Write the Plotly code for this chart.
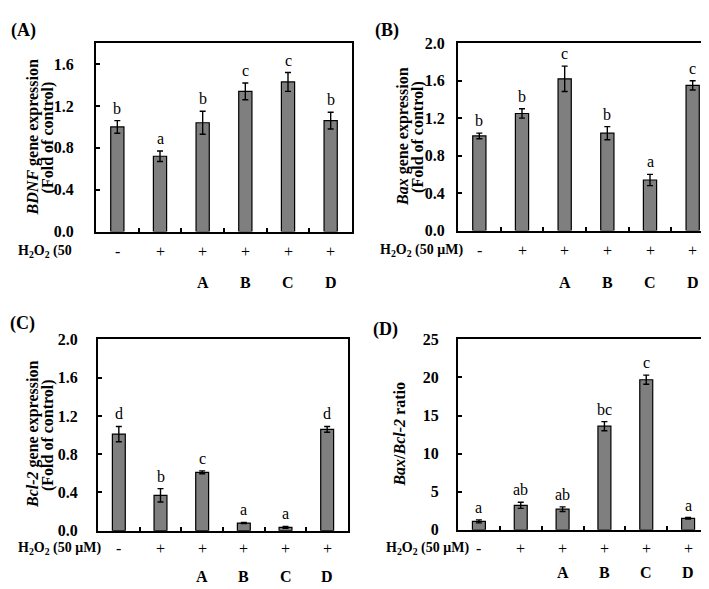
import plotly.graph_objects as go

W, H = 709, 589

treat = ["-", "+", "+", "+", "+", "+"]
groups = ["", "", "A", "B", "C", "D"]

bdnf = [1.00, 0.72, 1.04, 1.34, 1.43, 1.06]
bdnf_err = [0.06, 0.05, 0.11, 0.08, 0.09, 0.08]
bdnf_let = ["b", "a", "b", "c", "c", "b"]

bax = [1.01, 1.25, 1.62, 1.04, 0.54, 1.55]
bax_err = [0.03, 0.05, 0.135, 0.07, 0.06, 0.05]
bax_let = ["b", "b", "c", "b", "a", "c"]

bcl2 = [1.01, 0.37, 0.61, 0.08, 0.034, 1.06]
bcl2_err = [0.08, 0.07, 0.015, 0.006, 0.01, 0.03]
bcl2_let = ["d", "b", "c", "a", "a", "d"]

ratio = [1.1, 3.2, 2.7, 13.6, 19.7, 1.5]
ratio_err = [0.2, 0.4, 0.3, 0.6, 0.6, 0.1]
ratio_let = ["a", "ab", "ab", "bc", "c", "a"]

FONT = "Liberation Serif"

# panel boxes in pixels: left, right, top, bottom
panels = [
    dict(box=(88, 344, 28, 222), vals=bdnf, err=bdnf_err, let=bdnf_let,
         yr=[0, 1.8], tv=[0, 0.4, 0.8, 1.2, 1.6], fmt=".1f", stand=17,
         titles=["<i>BDNF</i> gene expression", "(Fold of control)"], tx=[25, 40],
         lab="(A)", labx=1, laby=15,
         hlab="H<sub>2</sub>O<sub>2</sub> (50", hx=8, hy=242, gy=274),
    dict(box=(450, 706, 28, 221), vals=bax, err=bax_err, let=bax_let,
         yr=[0, 2.0], tv=[0, 0.4, 0.8, 1.2, 1.6, 2.0], fmt=".1f", stand=8,
         titles=["<i>Bax</i> gene expression", "(Fold of control)"], tx=[395, 410],
         lab="(B)", labx=365, laby=15,
         hlab="H<sub>2</sub>O<sub>2</sub> (50 μM)", hx=370, hy=241, gy=274),
    dict(box=(90, 340, 333, 530), vals=bcl2, err=bcl2_err, let=bcl2_let,
         yr=[0, 2.0], tv=[0, 0.4, 0.8, 1.2, 1.6, 2.0], fmt=".1f", stand=15,
         titles=["<i>Bcl-2</i> gene expression", "(Fold of control)"], tx=[25, 40],
         lab="(C)", labx=0, laby=317,
         hlab="H<sub>2</sub>O<sub>2</sub> (50 μM)", hx=8, hy=548, gy=577),
    dict(box=(450, 701, 333, 529), vals=ratio, err=ratio_err, let=ratio_let,
         yr=[0, 25], tv=[0, 5, 10, 15, 20, 25], fmt="d", stand=14,
         titles=["<i>Bax</i>/<i>Bcl-2</i> ratio"], tx=[392],
         lab="(D)", labx=363, laby=323,
         hlab="H<sub>2</sub>O<sub>2</sub> (50 μM)", hx=376, hy=548, gy=573),
]

fig = go.Figure()
layout = dict(width=W, height=H, margin=dict(l=0, r=0, t=0, b=0),
              paper_bgcolor="white", plot_bgcolor="white", showlegend=False)
annotations = []


def px(x):
    return x / W


def py(y):
    return 1 - y / H


for i, p in enumerate(panels):
    n = "" if i == 0 else str(i + 1)
    xa, ya = "x" + n, "y" + n
    l, r, t, b = p["box"]
    xs = list(range(len(p["vals"])))
    fig.add_trace(go.Bar(
        x=xs, y=p["vals"], xaxis=xa, yaxis=ya, width=0.31,
        marker=dict(color="#7f7f7f", line=dict(color="black", width=1.2)),
        error_y=dict(type="data", array=p["err"], color="black",
                     thickness=1.4, width=3),
        hoverinfo="skip"))
    layout["xaxis" + n] = dict(
        domain=[px(l), px(r)], anchor=ya, range=[-0.5, 5.5],
        showline=True, linecolor="black", linewidth=2, mirror=True,
        ticks="inside", ticklen=4, tickwidth=2, tickcolor="black",
        tickvals=[0.5, 1.5, 2.5, 3.5, 4.5], showticklabels=False,
        showgrid=False, zeroline=False, fixedrange=True)
    layout["yaxis" + n] = dict(
        domain=[py(b), py(t)], anchor=xa, range=p["yr"],
        showline=True, linecolor="black", linewidth=2, mirror=True,
        ticks="inside", ticklen=4, tickwidth=2, tickcolor="black",
        tickvals=p["tv"], tickformat=p["fmt"], ticklabelstandoff=p["stand"],
        tickfont=dict(family=FONT, size=16, color="black", weight="bold"),
        showgrid=False, zeroline=False, fixedrange=True)
    # significance letters
    for j, (v, e, s) in enumerate(zip(p["vals"], p["err"], p["let"])):
        annotations.append(dict(
            x=j, y=v + e, xref=xa, yref=ya, text=s, showarrow=False,
            yanchor="bottom", yshift=2,
            font=dict(family=FONT, size=16, color="black")))
    # treatment row
    for j, s in enumerate(treat):
        annotations.append(dict(
            x=j, y=py(p["hy"]), xref=xa, yref="paper", text=s,
            showarrow=False, yanchor="middle",
            font=dict(family=FONT, size=16, color="black")))
    for j, s in enumerate(groups):
        if s:
            annotations.append(dict(
                x=j, y=py(p["gy"]), xref=xa, yref="paper", text="<b>" + s + "</b>",
                showarrow=False, yanchor="middle",
                font=dict(family=FONT, size=16, color="black")))
    annotations.append(dict(
        x=px(p["hx"]), y=py(p["hy"]), xref="paper", yref="paper",
        text="<b>" + p["hlab"] + "</b>", showarrow=False,
        xanchor="left", yanchor="middle",
        font=dict(family=FONT, size=14, color="black")))
    # y titles (one annotation per line)
    for tline, tx in zip(p["titles"], p["tx"]):
        annotations.append(dict(
            x=px(tx), y=py((t + b) / 2), xref="paper", yref="paper",
            text="<b>" + tline + "</b>", showarrow=False, textangle=-90,
            xanchor="center", yanchor="middle",
            font=dict(family=FONT, size=16, color="black")))
    # panel label
    annotations.append(dict(
        x=px(p["labx"]), y=py(p["laby"]), xref="paper", yref="paper",
        text="<b>" + p["lab"] + "</b>", showarrow=False,
        xanchor="left", yanchor="middle",
        font=dict(family=FONT, size=18, color="black")))

layout["annotations"] = annotations
fig.update_layout(**layout)
fig.write_html("out.html")
